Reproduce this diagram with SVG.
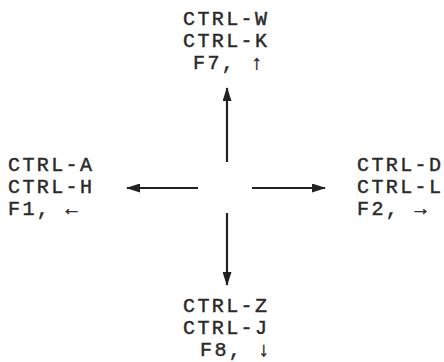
<svg xmlns="http://www.w3.org/2000/svg" width="444" height="362" viewBox="0 0 444 362">
<style>
text{font-family:"Liberation Mono","DejaVu Sans Mono",monospace;font-size:20px;letter-spacing:2.4px;fill:#2a2a2a;stroke:#2a2a2a;stroke-width:0.45}
.c{stroke:#222;stroke-width:2.2;fill:none}
</style>
<defs>
<marker id="ah" viewBox="0 0 14 9" refX="13" refY="4.5" markerWidth="14" markerHeight="9" markerUnits="userSpaceOnUse" orient="auto">
<path d="M0,0 L14,4.5 L0,9 Z" fill="#222"/>
</marker>
</defs>
<rect width="444" height="362" fill="#fff"/>
<g id="connectors">
<path class="c" d="M227,162 L227,88" marker-end="url(#ah)"/>
<path class="c" d="M198,188 L127,188" marker-end="url(#ah)"/>
<path class="c" d="M252,188 L325,188" marker-end="url(#ah)"/>
<path class="c" d="M227,213 L227,285" marker-end="url(#ah)"/>
</g>
<g id="up">
<text x="183" y="25">CTRL-W</text>
<text x="183" y="47">CTRL-K</text>
<text x="193" y="69">F7, ↑</text>
</g>
<g id="left">
<text x="8" y="171">CTRL-A</text>
<text x="8" y="193">CTRL-H</text>
<text x="8" y="215">F1, ←</text>
</g>
<g id="right">
<text x="357" y="171">CTRL-D</text>
<text x="357" y="193">CTRL-L</text>
<text x="357" y="215">F2, →</text>
</g>
<g id="down">
<text x="183" y="312">CTRL-Z</text>
<text x="183" y="334">CTRL-J</text>
<text x="200" y="356">F8, ↓</text>
</g>
</svg>
